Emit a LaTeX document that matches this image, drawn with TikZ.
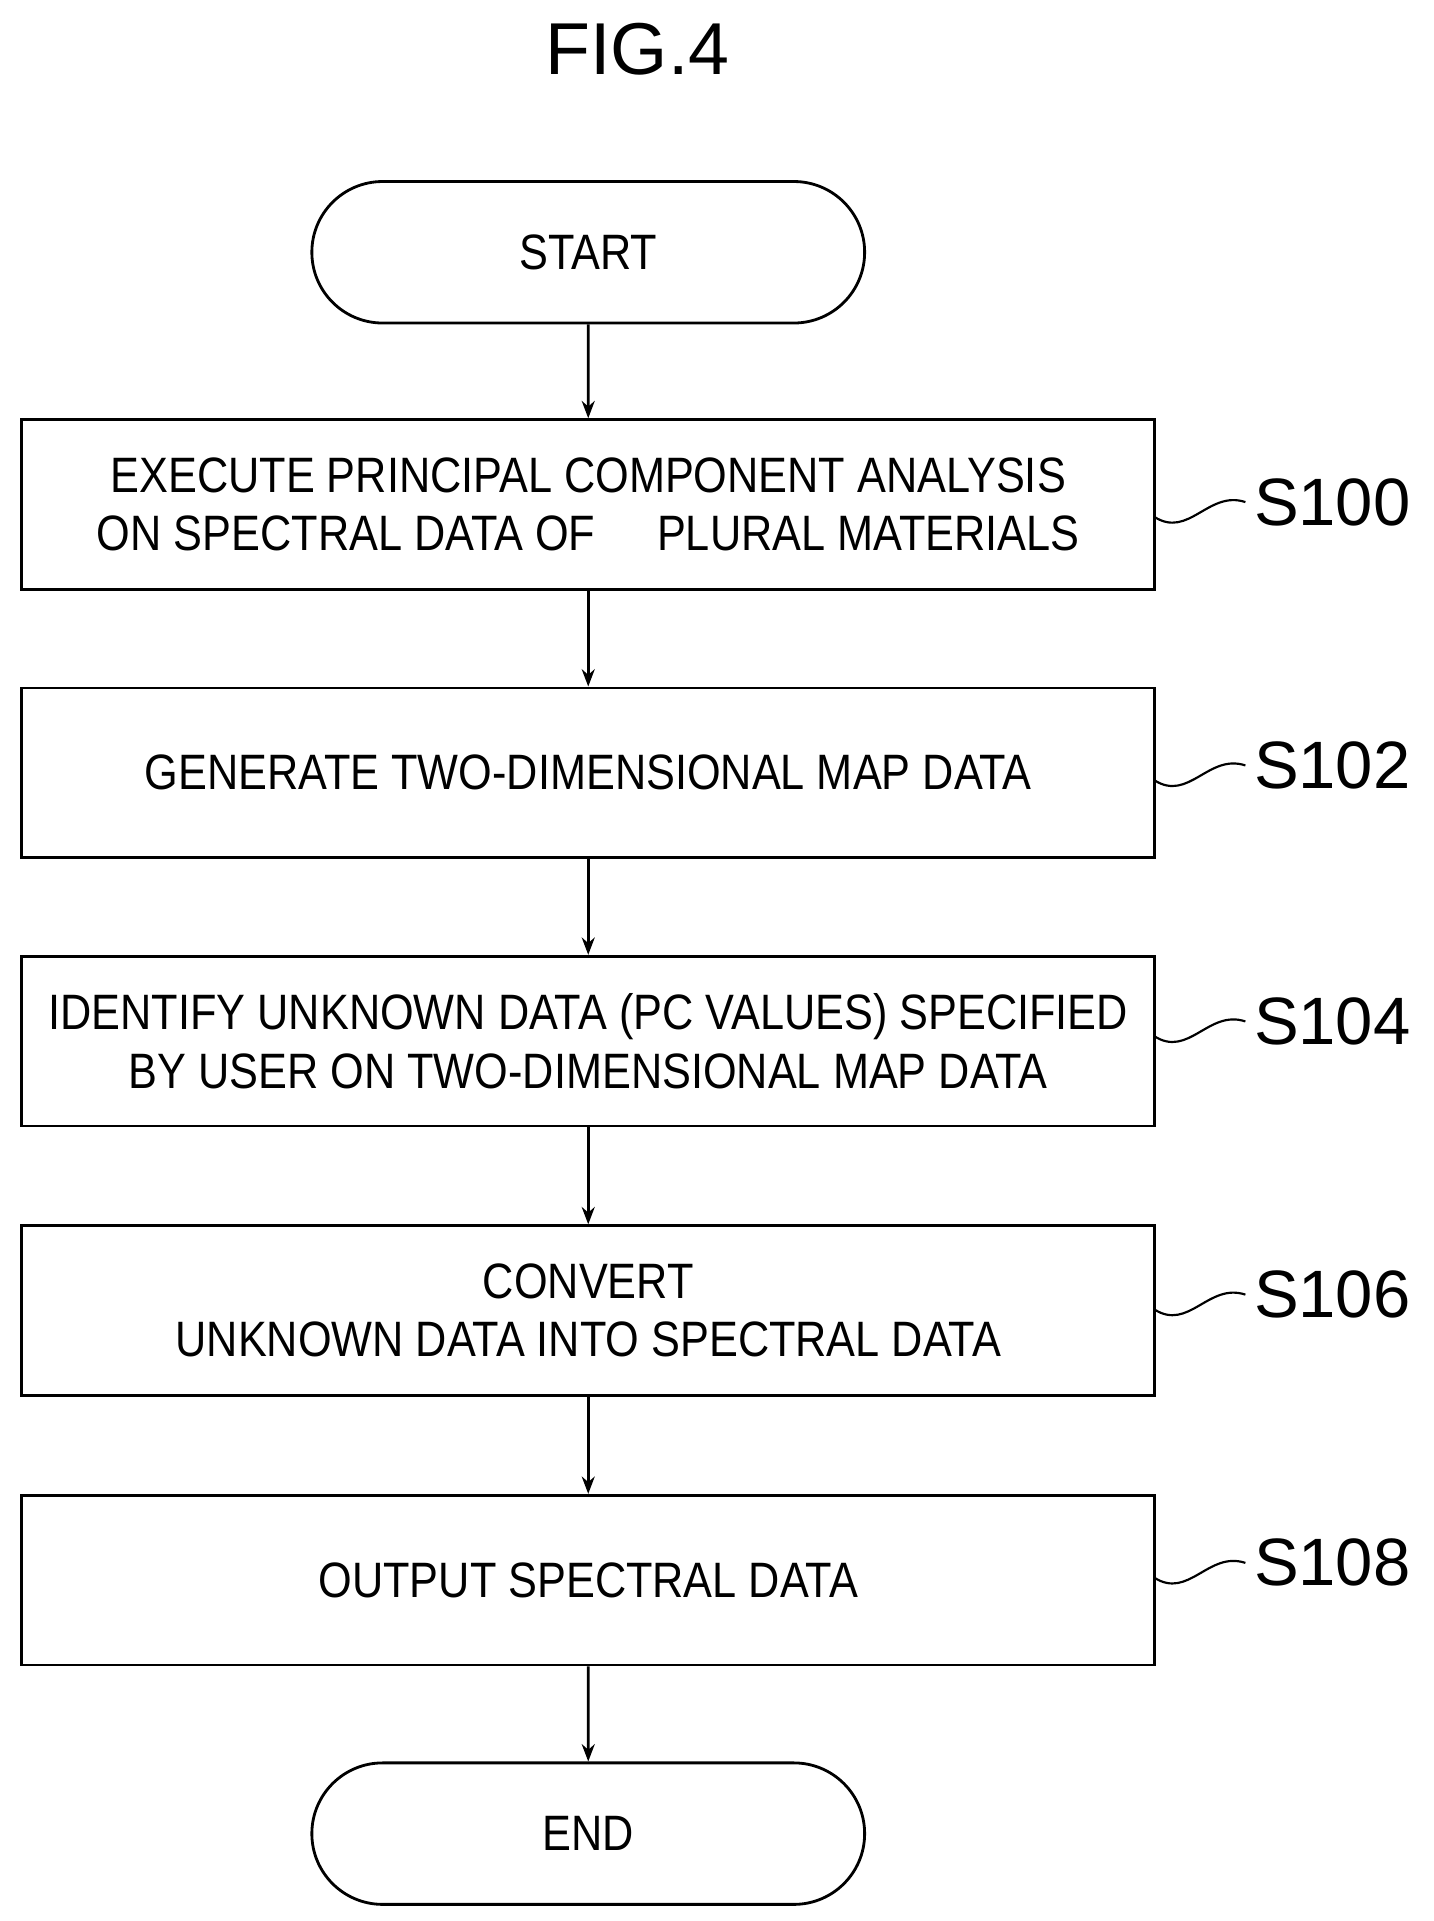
\documentclass[tikz,border=0pt]{standalone}
\usepackage{fontspec}
\setmainfont{Liberation Sans}
\newfontfamily\narrowfont[FakeStretch=0.87]{Liberation Sans}
\usetikzlibrary{arrows.meta, positioning, shapes.misc}
\begin{document}
\begin{tikzpicture}[
            > = {Stealth[length=8pt,width=6pt]}, % arrow head style
            x = 0.02cm, y = -0.02cm,
            line width = 1.3pt,
            flowstep/.style = {draw, minimum width = 18.42cm, minimum height = 2.76cm,
                align = center, font = \narrowfont\fontsize{23}{27}\selectfont},
            term/.style = {draw, rounded rectangle, minimum width = 9.22cm,
                minimum height = 2.3cm, font = \narrowfont\fontsize{23}{27}\selectfont},
            tag/.style = {font = \fontsize{31}{36}\selectfont, anchor = west}
        ]
        \useasboundingbox (0,0) rectangle (1165,1561);

        \node (title) at (518,40) {\fontsize{34}{40}\selectfont FIG.4};

        \node[term] (start) at (478,205) {START};
        \node[flowstep] (s100) at (478,410) {EXECUTE PRINCIPAL COMPONENT ANALYSIS\\ON SPECTRAL DATA OF \quad PLURAL MATERIALS};
        \node[flowstep] (s102) at (478,628) {GENERATE TWO-DIMENSIONAL MAP DATA};
        \node[flowstep] (s104) at (478,846) {IDENTIFY UNKNOWN DATA (PC VALUES) SPECIFIED\\BY USER ON TWO-DIMENSIONAL MAP DATA};
        \node[flowstep] (s106) at (478,1065) {CONVERT\\UNKNOWN DATA INTO SPECTRAL DATA};
        \node[flowstep] (s108) at (478,1284) {OUTPUT SPECTRAL DATA};
        \node[term] (end) at (478,1490) {END};

        \draw[->] (start) -- (s100);
        \draw[->] (s100) -- (s102);
        \draw[->] (s102) -- (s104);
        \draw[->] (s104) -- (s106);
        \draw[->] (s106) -- (s108);
        \draw[->] (s108) -- (end);

        % step labels with wavy leaders
        \foreach \s/\y in {100/408, 102/622, 104/830, 106/1052, 108/1270} {
            \node[tag] (t\s) at (1012,\y) {S\s};
            \coordinate (w\s) at (938,\y+12);
            \draw[line width=1pt] (w\s) .. controls (966,\y+30) and (982,\y-10) .. (t\s.west);
        }
    \end{tikzpicture}
\end{document}
